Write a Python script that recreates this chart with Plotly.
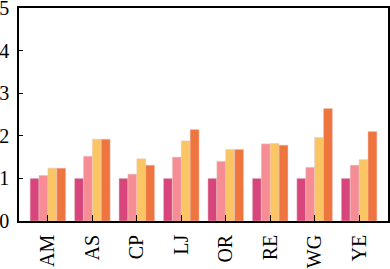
import plotly.graph_objects as go

categories = ["AM", "AS", "CP", "LJ", "OR", "RE", "WG", "YE"]
series1 = [1.00, 1.00, 1.00, 1.00, 1.00, 1.00, 1.00, 1.00]
series2 = [1.07, 1.52, 1.10, 1.50, 1.40, 1.81, 1.26, 1.31]
series3 = [1.24, 1.92, 1.46, 1.88, 1.68, 1.82, 1.96, 1.44]
series4 = [1.24, 1.92, 1.31, 2.15, 1.68, 1.78, 2.64, 2.10]
colors = ["#d8457c", "#f68c94", "#fcc563", "#ef753f"]
ytick_vals = [0, 1, 2, 3, 4, 5]

fig = go.Figure()
for vals, c in zip([series1, series2, series3, series4], colors):
    fig.add_trace(go.Bar(
        x=categories, y=vals, marker=dict(color=c, line=dict(color="rgba(230,200,200,0.7)", width=0.7)),
        showlegend=False,
    ))

font = dict(family="'Liberation Serif', 'Times New Roman', 'DejaVu Serif', serif", size=20, color="black")
fig.update_layout(
    width=390, height=269,
    margin=dict(l=19, r=2, t=8, b=48, autoexpand=False),
    barmode="group", bargap=0.2, bargroupgap=0,
    plot_bgcolor="white", paper_bgcolor="white",
    font=font,
)
fig.update_xaxes(
    range=[-0.65, 7.65], showline=True, linecolor="black", linewidth=1.6, mirror=True,
    ticks="inside", ticklen=6, tickwidth=1.2, tickcolor="black", automargin=False,
    tickangle=-90, showgrid=False, tickfont=font, ticklabelstandoff=4,
)
fig.update_yaxes(
    range=[0, 5], tickvals=ytick_vals, showline=True, linecolor="black", linewidth=1.6, mirror=True,
    ticks="inside", ticklen=4, tickwidth=1.2, tickcolor="black", automargin=False,
    showgrid=False, zeroline=False, tickfont=font, ticklabelstandoff=4,
    ticklabeloverflow="allow",
)
fig.write_html("out.html", config={"displayModeBar": False},
               post_script="document.body.style.margin='0';document.body.style.padding='0';")
